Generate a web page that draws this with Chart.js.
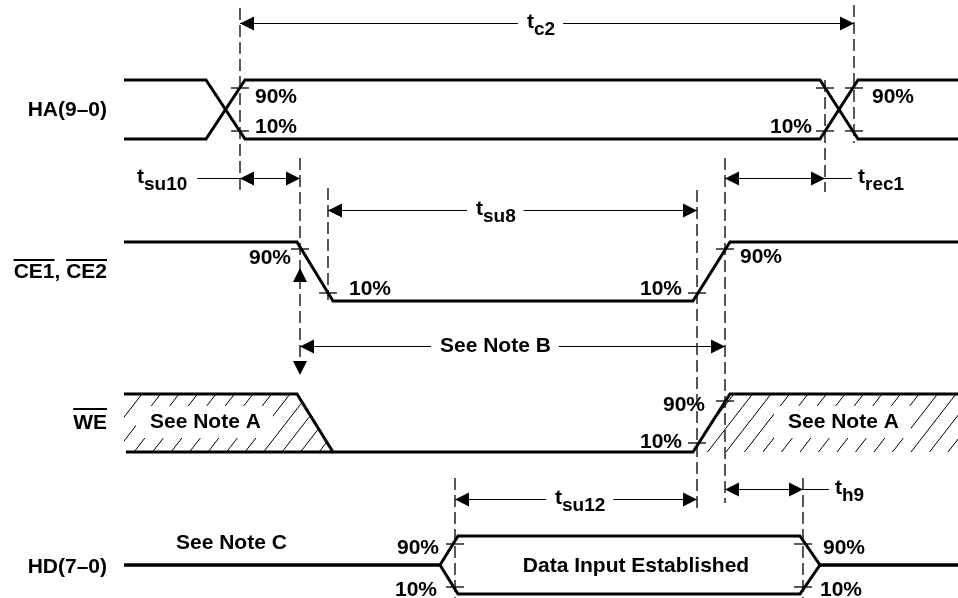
<!DOCTYPE html>
<html>
<head>
<meta charset="utf-8">
<script src="https://cdn.jsdelivr.net/npm/chart.js@4"></script>
<style>
  html, body { margin: 0; padding: 0; background: #fff; }
  #timing { display: block; }
</style>
</head>
<body>
<canvas id="timing" width="958" height="598"></canvas>
<script>
// signal rows (y of high / low rail)
const rowNames = ['HA(9–0)', 'CE1, CE2', 'WE', 'HD(7–0)'];
const rowHigh = [80, 242, 394, 536];
const rowLow = [139, 301, 452, 594];

// waveform edges (time axis) and levels (1 = high, 0 = low)
const haEdges = [124, 206, 245, 820, 858, 958];
const haLevelA = [1, 1, 0, 0, 1, 1];
const haLevelB = [0, 0, 1, 1, 0, 0];
const ceEdges = [124, 297, 333, 693, 730, 958];
const ceLevel = [1, 1, 0, 0, 1, 1];
const weEdges = [124, 297, 333, 693, 730, 958];
const weLevel = [1, 1, 0, 0, 1, 1];
const hdEdges = [124, 440, 458, 800, 820, 958];
const hdLevelA = [0.5, 0.5, 1, 1, 0.5, 0.5];
const hdLevelB = [0.5, 0.5, 0, 0, 0.5, 0.5];

// dashed reference lines
const markerX = [240, 854, 825, 300, 328, 697, 725, 455, 803];
const markerTop = [8, 5, 80, 158, 188, 190, 158, 478, 478];
const markerBottom = [190, 143, 192, 372, 300, 512, 503, 598, 598];

// 10% / 90% threshold ticks
const tickX = [240, 240, 825, 825, 854, 854, 300, 328, 697, 725, 697, 725, 455, 455, 803, 803];
const tickY = [88, 131, 88, 131, 88, 131, 249, 293, 293, 249, 443, 401, 544, 587, 544, 587];

// threshold labels
const pctText = ['90%', '10%', '10%', '90%', '90%', '10%', '10%', '90%', '90%', '10%', '90%', '10%', '90%', '10%'];
const pctX = [255, 255, 812, 872, 291, 349, 682, 740, 705, 682, 439, 437, 823, 820];
const pctY = [97, 127, 127, 97, 258, 289, 289, 257, 405, 442, 548, 590, 548, 590];
const pctAlign = ['left', 'left', 'right', 'left', 'right', 'left', 'right', 'left', 'right', 'right', 'right', 'right', 'left', 'left'];

// timing parameters (dimension arrows)
const spanLabel = ['t', 't', 't', 't', 'See Note B', 't', 't'];
const spanSub = ['c2', 'su10', 'rec1', 'su8', '', 'su12', 'h9'];
const spanFrom = [240, 240, 725, 328, 300, 455, 725];
const spanTo = [854, 300, 825, 697, 725, 697, 803];
const spanY = [23, 178, 178, 210, 346, 499, 489];
const spanTextX = [527, 137, 858, 476, 440, 555, 835];
const spanPlace = ['inside', 'left', 'right', 'inside', 'inside', 'inside', 'right'];

// notes
const noteText = ['See Note A', 'See Note A', 'See Note C', 'Data Input Established'];
const noteX = [150, 788, 176, 636];
const noteY = [422, 422, 543, 566];
const noteAlign = ['left', 'left', 'left', 'center'];

const FONT = 'bold 21px "Liberation Sans", Arial, sans-serif';
const SUBFONT = 'bold 19px "Liberation Sans", Arial, sans-serif';

function levelY(row, lv) {
  return rowLow[row] - lv * (rowLow[row] - rowHigh[row]);
}
function wave(row, edges, levels) {
  return edges.map((x, i) => ({ x: x, y: levelY(row, levels[i]) }));
}
function seg(data, width, dash) {
  return { data: data, showLine: true, borderColor: '#000', borderWidth: width,
           borderDash: dash || [], pointRadius: 0, fill: false, tension: 0 };
}

const datasets = [
  seg(wave(0, haEdges, haLevelA), 3),
  seg(wave(0, haEdges, haLevelB), 3),
  seg(wave(1, ceEdges, ceLevel), 3),
  seg(wave(2, weEdges, weLevel), 3),
  seg([{ x: weEdges[0] + 2, y: rowLow[2] }, { x: weEdges[2], y: rowLow[2] }], 3),
  seg(wave(3, hdEdges, hdLevelA), 3),
  seg(wave(3, hdEdges, hdLevelB), 3)
];
markerX.forEach((x, i) => {
  datasets.push(seg([{ x: x, y: markerTop[i] }, { x: x, y: markerBottom[i] }], 1.3, [12, 5]));
});
tickX.forEach((x, i) => {
  datasets.push(seg([{ x: x - 9, y: tickY[i] }, { x: x + 9, y: tickY[i] }], 1.3));
});

const overlay = {
  id: 'overlay',
  beforeDatasetsDraw(chart) {
    const c = chart.ctx, sx = chart.scales.x, sy = chart.scales.y;
    const px = v => sx.getPixelForValue(v), py = v => sy.getPixelForValue(v);
    const H = rowHigh[2], L = rowLow[2];
    const regions = [
      [[weEdges[0], H], [weEdges[1], H], [weEdges[2], L], [weEdges[0], L]],
      [[weEdges[3], L], [weEdges[4], H], [weEdges[5], H], [weEdges[5], L]]
    ];
    regions.forEach(poly => {
      c.save();
      c.beginPath();
      poly.forEach((p, i) => i ? c.lineTo(px(p[0]), py(p[1])) : c.moveTo(px(p[0]), py(p[1])));
      c.closePath();
      c.clip();
      c.strokeStyle = '#000';
      c.lineWidth = 1;
      for (let k = 60; k < 1000; k += 18.5) {
        c.beginPath();
        c.moveTo(px(k), py(L));
        c.lineTo(px(k + 45), py(H));
        c.stroke();
      }
      c.restore();
    });
    // blank boxes behind the "See Note A" texts
    c.save();
    c.font = FONT;
    c.fillStyle = '#fff';
    [0, 1].forEach(i => {
      const w = c.measureText(noteText[i]).width;
      c.fillRect(px(noteX[i] - 14), py(noteY[i] - 16), px(noteX[i] + w + 12) - px(noteX[i] - 14), py(noteY[i] + 16) - py(noteY[i] - 16));
    });
    c.restore();
  },
  afterDatasetsDraw(chart) {
    const c = chart.ctx, sx = chart.scales.x, sy = chart.scales.y;
    const px = v => sx.getPixelForValue(v), py = v => sy.getPixelForValue(v);
    c.save();
    c.fillStyle = '#000';
    c.strokeStyle = '#000';

    function head(x, y, dir) {
      // dir: 'l','r','u','d' -> direction the tip points
      const len = 14, hw = 7;
      c.beginPath();
      if (dir === 'l') { c.moveTo(x, y); c.lineTo(x + len, y - hw); c.lineTo(x + len, y + hw); }
      if (dir === 'r') { c.moveTo(x, y); c.lineTo(x - len, y - hw); c.lineTo(x - len, y + hw); }
      if (dir === 'u') { c.moveTo(x, y); c.lineTo(x - hw, y + len); c.lineTo(x + hw, y + len); }
      if (dir === 'd') { c.moveTo(x, y); c.lineTo(x - hw, y - len); c.lineTo(x + hw, y - len); }
      c.closePath();
      c.fill();
    }
    function hline(x1, x2, y) {
      c.beginPath();
      c.lineWidth = 1;
      c.moveTo(px(x1), py(y) + 0.5);
      c.lineTo(px(x2), py(y) + 0.5);
      c.stroke();
    }

    // dimension arrows with labels
    spanLabel.forEach((lab, i) => {
      const y = spanY[i];
      let w;
      c.textAlign = 'left';
      if (spanSub[i]) {
        c.font = FONT;
        const tw = c.measureText(lab).width;
        c.fillText(lab, px(spanTextX[i]), py(y + 5));
        c.font = SUBFONT;
        const sw = c.measureText(spanSub[i]).width;
        c.fillText(spanSub[i], px(spanTextX[i]) + tw, py(y + 12));
        w = tw + sw;
      } else {
        c.font = FONT;
        c.textBaseline = 'middle';
        c.fillText(lab, px(spanTextX[i]), py(y));
        c.textBaseline = 'alphabetic';
        w = c.measureText(lab).width;
      }
      const tl = spanTextX[i], tr = spanTextX[i] + w;
      if (spanPlace[i] === 'inside') {
        hline(spanFrom[i], tl - 9, y);
        hline(tr + 8, spanTo[i], y);
      } else if (spanPlace[i] === 'left') {
        hline(tr + 10, spanTo[i], y);
      } else {
        hline(spanFrom[i], tl - 6, y);
      }
      head(px(spanFrom[i]), py(y) + 0.5, 'l');
      head(px(spanTo[i]), py(y) + 0.5, 'r');
    });

    // vertical CE -> WE arrows
    head(px(300), py(268), 'u');
    head(px(300), py(375), 'd');

    // threshold labels
    c.font = FONT;
    c.textBaseline = 'middle';
    pctText.forEach((t, i) => {
      c.textAlign = pctAlign[i];
      c.fillText(t, px(pctX[i]), py(pctY[i]));
    });

    // notes
    noteText.forEach((t, i) => {
      c.textAlign = noteAlign[i];
      c.fillText(t, px(noteX[i]), py(noteY[i]));
    });

    // signal names (right aligned), with overbars for active-low
    const nameY = [110, 272, 423, 567];
    c.textAlign = 'right';
    rowNames.forEach((n, i) => c.fillText(n, px(107), py(nameY[i])));
    c.lineWidth = 2;
    const ceW = c.measureText('CE1, CE2').width;
    const ce1W = c.measureText('CE1').width;
    const ce2W = c.measureText('CE2').width;
    const ceLeft = px(107) - ceW;
    c.beginPath();
    c.moveTo(ceLeft, py(260)); c.lineTo(ceLeft + ce1W, py(260));
    c.moveTo(px(107) - ce2W, py(260)); c.lineTo(px(107), py(260));
    const weW = c.measureText('WE').width;
    c.moveTo(px(107) - weW, py(409)); c.lineTo(px(107), py(409));
    c.stroke();
    c.restore();
  }
};

new Chart(document.getElementById('timing').getContext('2d'), {
  type: 'scatter',
  data: { datasets: datasets },
  options: {
    responsive: false,
    animation: false,
    layout: { padding: 0 },
    plugins: { legend: { display: false }, tooltip: { enabled: false } },
    scales: {
      x: { type: 'linear', min: 0, max: 958, display: false },
      y: { type: 'linear', min: 0, max: 598, reverse: true, display: false }
    }
  },
  plugins: [overlay]
});
</script>
</body>
</html>
